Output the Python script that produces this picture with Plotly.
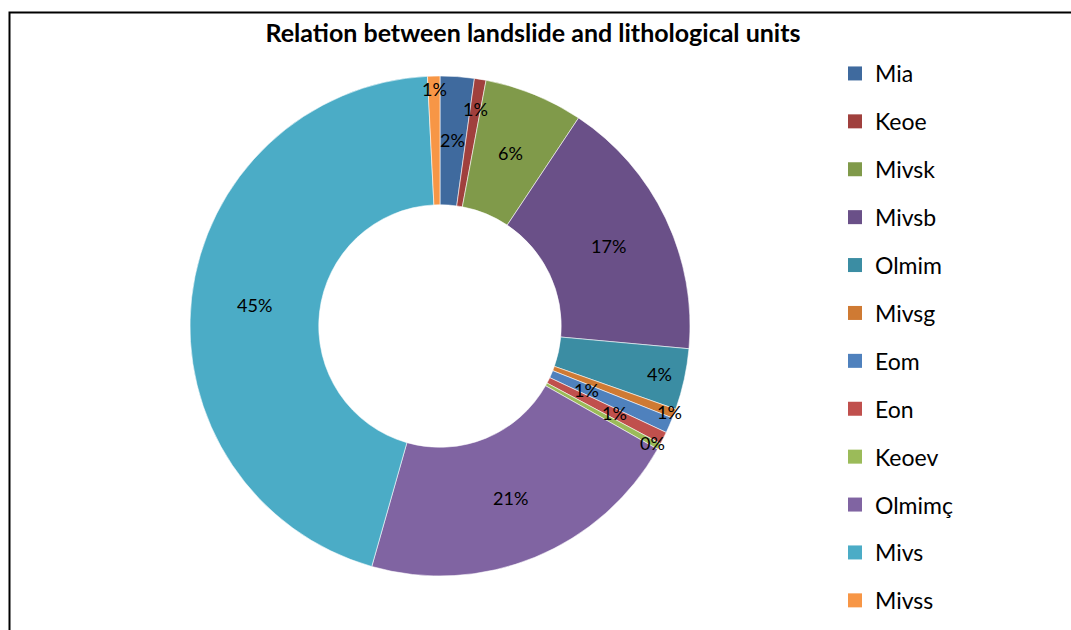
import math
import plotly.graph_objects as go

# Lithological units and share of landslide area (%)
units = ["Mia", "Keoe", "Mivsk", "Mivsb", "Olmim", "Mivsg", "Eom", "Eon",
         "Keoev", "Olmimç", "Mivs", "Mivss"]
shares = [2.2, 0.75, 6.4, 17.1, 3.95, 0.6, 1.0, 0.8, 0.4, 21.2, 44.8, 0.8]
colors = ["#3F6A9E", "#A0403D", "#809A4A", "#6A5088", "#3B8DA3", "#CF7A33",
          "#4F81BD", "#C0504D", "#9BBB59", "#8064A2", "#4BACC6", "#F79646"]
# radial position of each percentage label, as a fraction of the outer radius
label_radius = [0.745, 0.88, 0.745, 0.745, 0.9, 0.98, 0.64, 0.78, 0.97,
                0.745, 0.745, 0.95]

W, H = 1071, 630
cx, cy, R = 440, 326, 250
FONT = "Lato, Carlito, Calibri, sans-serif"

fig = go.Figure()
fig.add_trace(go.Pie(
    labels=units, values=shares, sort=False, direction="clockwise", rotation=0,
    hole=0.485, textinfo="none", showlegend=False,
    marker=dict(colors=colors, line=dict(color="rgba(255,255,255,0.8)", width=0.7)),
    domain=dict(x=[(cx - R) / W, (cx + R) / W], y=[1 - (cy + R) / H, 1 - (cy - R) / H]),
    hoverinfo="label+percent",
))

# Legend entries
for name, col in zip(units, colors):
    fig.add_trace(go.Scatter(
        x=[None], y=[None], mode="markers", name=name, legendgroup=name,
        marker=dict(symbol="square", size=14, color=col), showlegend=True,
    ))

# Percentage labels placed at each slice's mid angle
total = sum(shares)
annotations = []
cum = 0.0
for v, rf in zip(shares, label_radius):
    mid = (cum + v / 2) / total * 2 * math.pi
    cum += v
    px = cx + rf * R * math.sin(mid)
    py = cy - rf * R * math.cos(mid)
    annotations.append(dict(
        x=px / W, y=1 - py / H, xref="paper", yref="paper",
        text=f"{round(v / total * 100)}%", showarrow=False,
        xanchor="center", yanchor="middle",
        font=dict(family=FONT, size=18, color="#000000"),
    ))

fig.update_layout(
    width=W, height=H,
    margin=dict(l=0, r=0, t=0, b=0),
    paper_bgcolor="white", plot_bgcolor="white",
    title=dict(text="<b>Relation between landslide and lithological units</b>",
               x=533 / W, y=1 - 33 / H, xanchor="center", yanchor="middle",
               font=dict(family=FONT, size=25, color="#000000")),
    xaxis=dict(visible=False), yaxis=dict(visible=False),
    legend=dict(x=835 / W, y=1 - 52 / H, xanchor="left", yanchor="top",
                font=dict(family=FONT, size=23, color="#000000"),
                tracegroupgap=15, bgcolor="rgba(0,0,0,0)"),
    annotations=annotations,
    shapes=[dict(type="rect", xref="paper", yref="paper",
                 x0=9.5 / W, y0=-0.05, x1=1.05, y1=1 - 12.5 / H,
                 line=dict(color="#000000", width=2))],
)

fig.write_html("out.html")
